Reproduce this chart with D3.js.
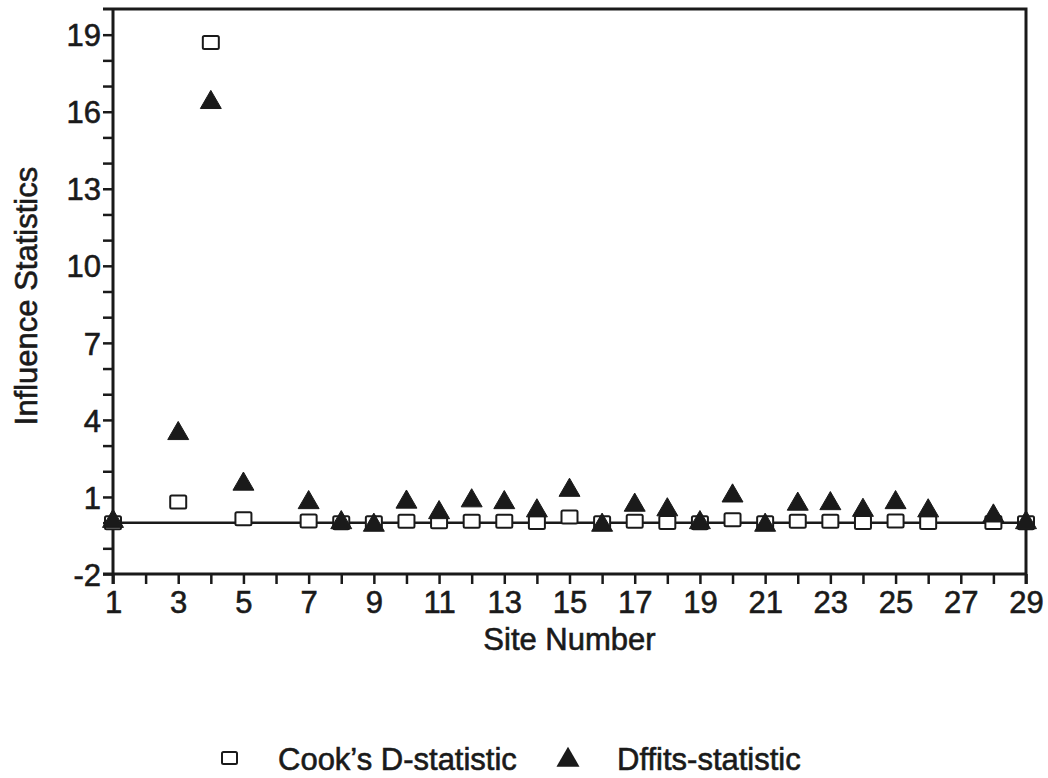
<!DOCTYPE html>
<html>
<head>
<meta charset="utf-8">
<script src="https://cdn.jsdelivr.net/npm/d3@7"></script>
<style>
  body { margin: 0; background: #fff; }
  text { font-family: "Liberation Sans", Arial, sans-serif; fill: #1a1a1a; stroke: #1a1a1a; stroke-width: 0.6px; }
</style>
</head>
<body>
<div id="chart"></div>
<script>
const width = 1048, height = 778;

// site numbers with values (2, 6 and 27 have no points)
const sites = [1, 3, 4, 5, 7, 8, 9, 10, 11, 12, 13, 14, 15, 16, 17, 18, 19, 20, 21, 22, 23, 24, 25, 26, 28, 29];
const cooksD = [0.0, 0.8, 18.7, 0.15, 0.06, 0.0, 0.0, 0.05, 0.03, 0.05, 0.05, 0.01, 0.22, 0.0, 0.05, 0.01, 0.0, 0.11, 0.0, 0.05, 0.05, 0.01, 0.06, 0.01, 0.01, 0.0];
const dffits = [0.05, 3.47, 16.36, 1.5, 0.78, 0.0, -0.1, 0.8, 0.39, 0.85, 0.78, 0.46, 1.26, -0.1, 0.68, 0.5, 0.0, 1.04, -0.1, 0.72, 0.74, 0.48, 0.78, 0.46, 0.26, 0.0];

const xTickLabels = [1, 3, 5, 7, 9, 11, 13, 15, 17, 19, 21, 23, 25, 27, 29];
const yTickLabels = [-2, 1, 4, 7, 10, 13, 16, 19];
const legendLabels = ["Cook\u2019s D-statistic", "Dffits-statistic"];

const svg = d3.select("#chart").append("svg")
    .attr("width", width)
    .attr("height", height);

const x = d3.scaleLinear().domain([1, 29]).range([113, 1026]);
const y = d3.scaleLinear().domain([-2, 20]).range([574, 9]);

const ink = "#1a1a1a";
const fontSize = 31;
const boxW = 16, boxH = 13;

// x axis with a tick on every site, labels on odd ones
const xAxis = svg.append("g")
    .attr("transform", "translate(0," + y(-2) + ")")
    .call(d3.axisBottom(x)
        .tickValues(d3.range(1, 30))
        .tickSize(10)
        .tickSizeOuter(0)
        .tickFormat(d => xTickLabels.includes(d) ? d : ""));
xAxis.select(".domain").attr("stroke", ink).attr("stroke-width", 3)
    .attr("d", "M103,0H" + x(29));
xAxis.selectAll(".tick line").attr("stroke", ink).attr("stroke-width", 2.5);
xAxis.selectAll(".tick text")
    .attr("y", 17)
    .attr("dy", "0.71em")
    .style("font-size", fontSize + "px");

// y axis, a tick every unit
const yAxis = svg.append("g")
    .attr("transform", "translate(" + x(1) + ",0)")
    .call(d3.axisLeft(y)
        .tickValues(d3.range(-2, 20))
        .tickSize(10)
        .tickSizeOuter(0)
        .tickFormat(d => yTickLabels.includes(d) ? d : ""));
yAxis.select(".domain").attr("stroke", ink).attr("stroke-width", 3)
    .attr("d", "M0,9V" + (y(-2) + 10));
yAxis.selectAll(".tick line").attr("stroke", ink).attr("stroke-width", 2.5);
yAxis.selectAll(".tick text")
    .attr("x", -12)
    .attr("dy", "0.36em")
    .style("font-size", fontSize + "px");

// top and right frame
svg.append("path")
    .attr("d", "M103," + y(20) + "H" + x(29) + "V" + (y(-2) + 10))
    .attr("fill", "none")
    .attr("stroke", ink)
    .attr("stroke-width", 3);

// zero reference line
svg.append("line")
    .attr("x1", x(1)).attr("x2", x(29) + 8)
    .attr("y1", y(0)).attr("y2", y(0))
    .attr("stroke", ink)
    .attr("stroke-width", 2.5);

// axis titles
svg.append("text")
    .attr("x", (x(1) + x(29)) / 2)
    .attr("y", 650)
    .attr("text-anchor", "middle")
    .style("font-size", fontSize + "px")
    .text("Site Number");

svg.append("text")
    .attr("transform", "translate(37," + 296 + ") rotate(-90)")
    .attr("text-anchor", "middle")
    .style("font-size", fontSize + "px")
    .text("Influence Statistics");

const triangle = d3.symbol().type(d3.symbolTriangle).size(190);

// Cook's D boxes
svg.append("g")
    .selectAll("rect")
    .data(sites)
    .enter().append("rect")
    .attr("x", d => x(d) - boxW / 2)
    .attr("y", (d, i) => y(cooksD[i]) - boxH / 2)
    .attr("width", boxW)
    .attr("height", boxH)
    .attr("rx", 1.5)
    .attr("fill", "#fff")
    .attr("stroke", ink)
    .attr("stroke-width", 2);

// Dffits triangles drawn on top
svg.append("g")
    .selectAll("path")
    .data(sites)
    .enter().append("path")
    .attr("d", triangle)
    .attr("transform", (d, i) => "translate(" + x(d) + "," + y(dffits[i]) + ")")
    .attr("fill", ink)
    .attr("stroke", ink)
    .attr("stroke-width", 1);

// legend
const legend = svg.append("g");
legend.append("rect")
    .attr("x", 222).attr("y", 752)
    .attr("width", 15).attr("height", 12)
    .attr("rx", 1.5)
    .attr("fill", "#fff")
    .attr("stroke", ink)
    .attr("stroke-width", 2);
legend.append("text")
    .attr("x", 278).attr("y", 770)
    .style("font-size", fontSize + "px")
    .text(legendLabels[0]);
legend.append("path")
    .attr("d", d3.symbol().type(d3.symbolTriangle).size(230))
    .attr("transform", "translate(568,760)")
    .attr("fill", ink);
legend.append("text")
    .attr("x", 617).attr("y", 770)
    .style("font-size", fontSize + "px")
    .text(legendLabels[1]);
</script>
</body>
</html>
